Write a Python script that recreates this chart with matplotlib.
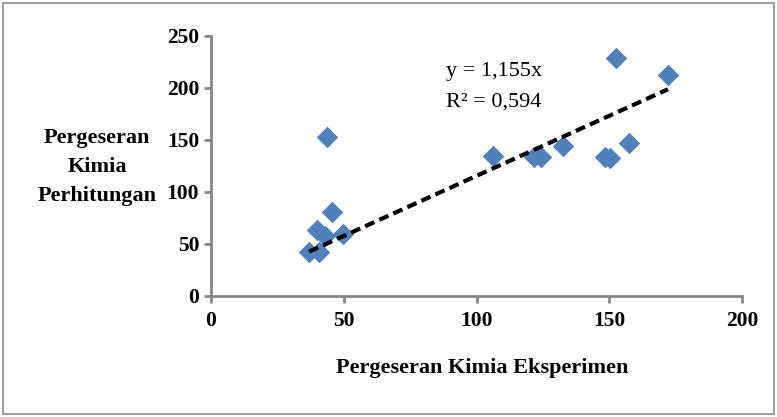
import matplotlib
matplotlib.use("Agg")
import matplotlib.pyplot as plt
from matplotlib.patches import Rectangle
import numpy as np

plt.rcParams['font.family'] = ['Liberation Serif', 'DejaVu Serif']

eksperimen = [36.9, 40.7, 39.9, 42.9, 43.7, 45.6, 49.7, 106.2, 121.7, 124.3,
              132.6, 148.4, 150.3, 152.5, 157.4, 172.1]
perhitungan = [42.3, 42.0, 63.5, 57.7, 153.0, 80.8, 59.6, 134.6, 133.7, 133.7,
               144.0, 133.7, 132.7, 228.8, 147.0, 212.5]
slope = 1.155
r2_text = "R² = 0,594"
eq_text = "y = 1,155x"
xticks = [0, 50, 100, 150, 200]
yticks = [0, 50, 100, 150, 200, 250]

fig = plt.figure(figsize=(7.77, 4.17), dpi=100)
fig.patches.append(Rectangle((0.004, 0.007), 0.992, 0.986, transform=fig.transFigure,
                             fill=False, edgecolor='#8c8c8c', linewidth=1.2))
ax = fig.add_axes([0.2716, 0.2902, 0.9550 - 0.2716, 0.9137 - 0.2902])

ax.scatter(eksperimen, perhitungan, marker='D', s=120, color='#4F81BD', zorder=3,
           linewidths=0)
xs = np.array([min(eksperimen), max(eksperimen)])
ax.plot(xs, slope * xs, linestyle=(0, (2.4, 1.3)), color='black', linewidth=3, zorder=4)

ax.set_xlim(0, 200)
ax.set_ylim(0, 250)
ax.set_xticks(xticks)
ax.set_yticks(yticks)
for s in ['top', 'right']:
    ax.spines[s].set_visible(False)
for s in ['left', 'bottom']:
    ax.spines[s].set_color('#868686')
    ax.spines[s].set_linewidth(2)
ax.tick_params(axis='both', colors='#868686', width=2, length=5, direction='out',
               labelcolor='black', labelsize=15.5)
ax.tick_params(axis='x', pad=6)
for lbl in ax.get_xticklabels() + ax.get_yticklabels():
    lbl.set_fontweight('bold')

ax.set_xlabel("Pergeseran Kimia Eksperimen", fontsize=16, fontweight='bold', va='center')
ax.xaxis.set_label_coords(0.510, -0.277)
fig.text(0.125, 0.600, "Pergeseran\nKimia\nPerhitungan", ha='center', va='center',
         fontsize=16, fontweight='bold', linespacing=1.6)

ax.text(0.443, 0.862, eq_text, transform=ax.transAxes, fontsize=16, ha='left', va='center')
ax.text(0.443, 0.745, r2_text, transform=ax.transAxes, fontsize=16, ha='left', va='center')

fig.savefig("out.png", dpi=100)
